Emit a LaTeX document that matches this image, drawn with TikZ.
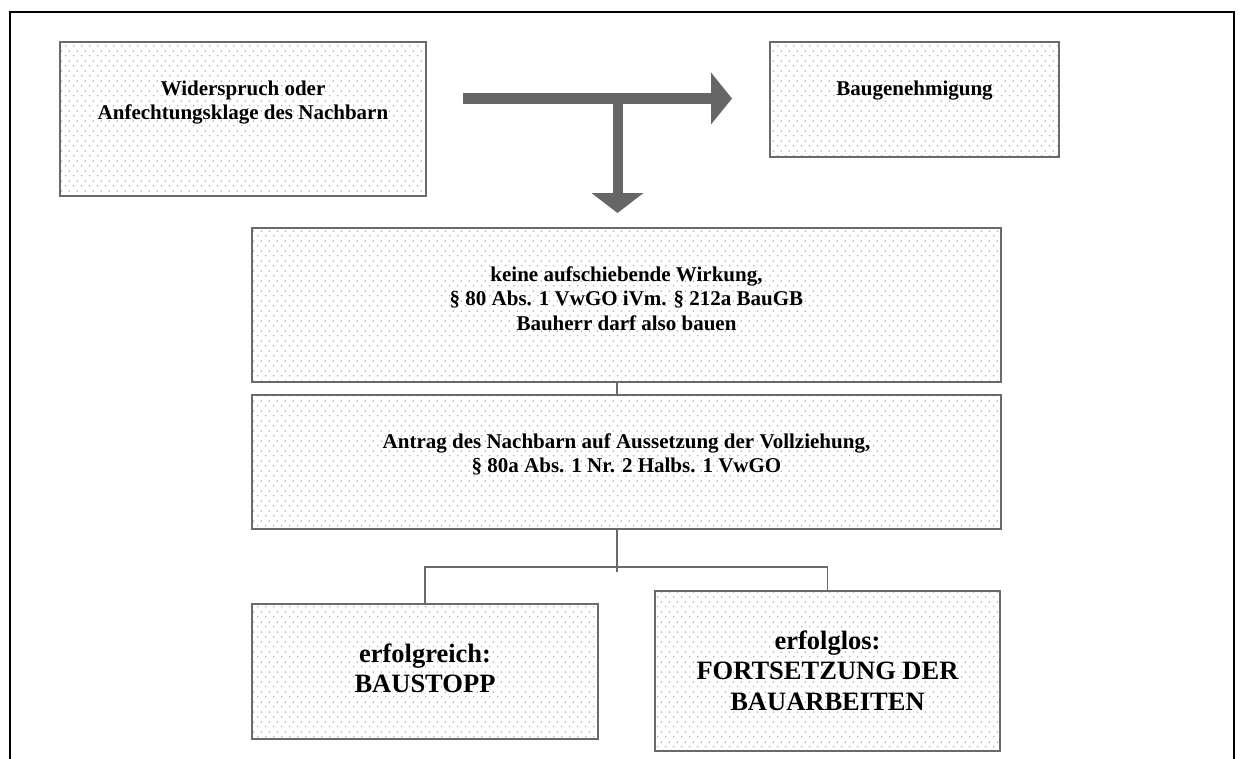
\documentclass[tikz,border=0pt]{standalone}
\usepackage{fontspec}
\setmainfont{Liberation Serif}
\usetikzlibrary{arrows.meta,patterns,calc}

% light dotted screen used as box fill
\pgfdeclarepatternformonly{softdots}{\pgfpointorigin}{\pgfpoint{8pt}{10pt}}{\pgfpoint{8pt}{10pt}}{%
  \pgfpathcircle{\pgfpoint{2pt}{2.5pt}}{1pt}%
  \pgfpathcircle{\pgfpoint{6pt}{7.5pt}}{1pt}%
  \pgfusepath{fill}}

\definecolor{boxline}{HTML}{6A6A6A}
\definecolor{arrowgray}{HTML}{666666}
\definecolor{dotgray}{HTML}{B0B0B0}

\tikzset{
  panel/.style={rectangle, draw=boxline, line width=2pt, inner sep=0pt,
    pattern=softdots, pattern color=dotgray},
  link/.style={draw=boxline, line width=1.7pt},
  bigarrow/.style={draw=arrowgray, line cap=butt},
  lbl/.style={inner sep=0pt, anchor=base, font=\bfseries\fontsize{21}{24.5}\selectfont},
  biglbl/.style={inner sep=0pt, anchor=base, font=\bfseries\fontsize{26.5}{30.5}\selectfont},
}

\begin{document}
\begin{tikzpicture}[x=1pt, y=-1pt]
\useasboundingbox (0,0) rectangle (1239,758);

% page frame, open at the bottom
\draw[line width=2.2pt, black] (10,770) -- (10,12) -- (1234,12) -- (1234,770);

% boxes
\node[panel, minimum width=366, minimum height=154] (b1) at (243,119) {};
\node[panel, minimum width=289, minimum height=115] (b2) at (914.5,99.5) {};
\node[panel, minimum width=749, minimum height=154] (b3) at (626.5,305) {};
\node[panel, minimum width=749, minimum height=134] (b4) at (626.5,462) {};
\node[panel, minimum width=346, minimum height=135] (b5) at (425,671.5) {};
\node[panel, minimum width=345, minimum height=160] (b6) at (827.5,671) {};

% texts
\node[lbl] (t1) at (243,95) {\begin{tabular}[t]{@{}c@{}}Widerspruch oder\\Anfechtungsklage des Nachbarn\end{tabular}};
\node[lbl] (t2) at (914.5,95) {Baugenehmigung};
\node[lbl] (t3) at (626.5,281) {\begin{tabular}[t]{@{}c@{}}keine aufschiebende Wirkung,\\§ 80 Abs. 1 VwGO iVm. § 212a BauGB\\Bauherr darf also bauen\end{tabular}};
\node[lbl] (t4) at (626.5,448) {\begin{tabular}[t]{@{}c@{}}Antrag des Nachbarn auf Aussetzung der Vollziehung,\\§ 80a Abs. 1 Nr. 2 Halbs. 1 VwGO\end{tabular}};
\node[biglbl] (t5) at (425,662) {\begin{tabular}[t]{@{}c@{}}erfolgreich:\\BAUSTOPP\end{tabular}};
\node[biglbl] (t6) at (827.5,649) {\begin{tabular}[t]{@{}c@{}}erfolglos:\\FORTSETZUNG DER\\BAUARBEITEN\end{tabular}};

% thick T-shaped arrow
\coordinate (ha) at (463,98.5);
\coordinate (hb) at (732,98.5);
\coordinate (fork) at (617.5,98.5);
\coordinate (vb) at (617.5,213);
\draw[bigarrow, line width=11pt, -{Triangle[length=21pt, width=52pt, line width=0pt]}] (ha) -- (hb);
\draw[bigarrow, line width=10pt, -{Triangle[length=20pt, width=52pt, line width=0pt]}] (fork) -- (vb);

% thin connectors
\coordinate (spine) at (617,0);
\coordinate (split) at (617,567);
\draw[link] (b3.south -| spine) -- (b4.north -| spine);
\draw[link] (b4.south -| spine) -- ($(split)+(0,5)$);
\draw[link] (b5.north) |- (split) -| (b6.north);
\end{tikzpicture}
\end{document}
